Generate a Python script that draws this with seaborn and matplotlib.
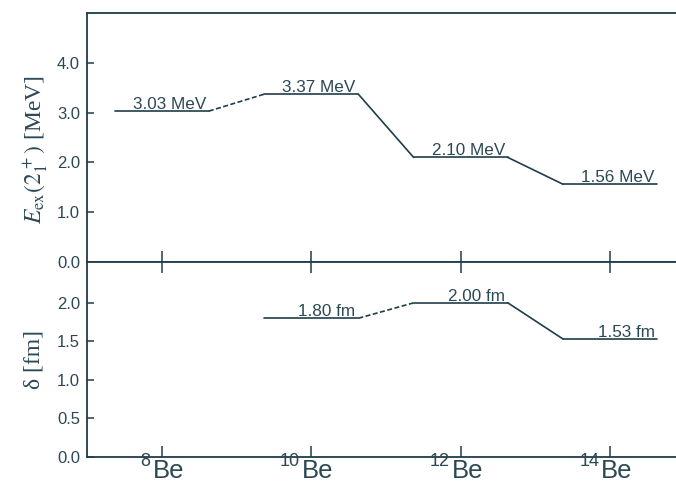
import numpy as np
import pandas as pd
import matplotlib
matplotlib.use("Agg")
import matplotlib.pyplot as plt
from matplotlib.transforms import blended_transform_factory, offset_copy
import seaborn as sns

# ---- data ----
mass_numbers = [8, 10, 12, 14]
mass_labels = ["8", "10", "12", "14"]
element = "Be"
energies = [3.03, 3.37, 2.10, 1.56]            # MeV
energy_labels = ["3.03 MeV", "3.37 MeV", "2.10 MeV", "1.56 MeV"]
deltas = [np.nan, 1.80, 2.00, 1.53]            # fm
delta_labels = ["", "1.80 fm", "2.00 fm", "1.53 fm"]
energy_links = ["dashed", "solid", "solid"]
delta_links = [None, "dashed", "solid"]

sns.set_theme(style="white")
plt.rcParams["font.family"] = ["Liberation Sans", "DejaVu Sans"]

LINE = "#1f3d4a"
TEXT = "#2b4855"
HALF = 0.63

fig = plt.figure(figsize=(6.76, 4.83), dpi=100)
left, right = 87 / 676, 1.0
ax1 = fig.add_axes([left, 1 - 262 / 483, right - left, (262 - 13) / 483])
ax2 = fig.add_axes([left, 1 - 457 / 483, right - left, (457 - 262) / 483])


def segments(values, links):
    rows = []
    seg = 0
    for a, v in zip(mass_numbers, values):
        if np.isnan(v):
            continue
        rows.append(dict(x=a - HALF, y=v, seg=seg, kind="solid"))
        rows.append(dict(x=a + HALF, y=v, seg=seg, kind="solid"))
        seg += 1
    for i, style in enumerate(links):
        if style is None:
            continue
        a0, a1 = mass_numbers[i], mass_numbers[i + 1]
        rows.append(dict(x=a0 + HALF, y=values[i], seg=seg, kind=style))
        rows.append(dict(x=a1 - HALF, y=values[i + 1], seg=seg, kind=style))
        seg += 1
    return pd.DataFrame(rows)


def draw(ax, values, labels, links):
    df = segments(values, links)
    sns.lineplot(data=df, x="x", y="y", units="seg", style="kind",
                 dashes={"solid": "", "dashed": (3, 1.5)},
                 estimator=None, sort=False, color=LINE, lw=1.2,
                 legend=False, ax=ax)
    for a, v, lab in zip(mass_numbers, values, labels):
        if np.isnan(v):
            continue
        ax.annotate(lab, xy=(a + HALF, v), xytext=(-2, 1.6),
                    textcoords="offset points", ha="right", va="baseline",
                    fontsize=12.3, color=TEXT)


draw(ax1, energies, energy_labels, energy_links)
draw(ax2, deltas, delta_labels, delta_links)

for ax in (ax1, ax2):
    ax.set_xlim(7.0, 14.88)
    ax.set_xticks(mass_numbers)
    ax.set_xlabel("")
    ax.set_ylabel("")
    for s in ax.spines.values():
        s.set_color(LINE)
        s.set_linewidth(1.3)
    ax.spines["right"].set_visible(False)
    ax.tick_params(axis="y", direction="in", length=5, width=1.1,
                   color=LINE, labelcolor=TEXT, labelsize=12, pad=5,
                   left=True)
    ax.grid(False)

ax1.set_ylim(0, 5.0)
ax1.set_yticks([0, 1, 2, 3, 4])
ax1.set_yticklabels([f"{t:.1f}" for t in [0, 1, 2, 3, 4]])
ax1.tick_params(axis="x", direction="in", length=8, width=1.1, color=LINE,
                bottom=True, top=False, labelbottom=False)

ax2.set_ylim(0, 2.53)
yt2 = [0, 0.5, 1.0, 1.5, 2.0]
ax2.set_yticks(yt2)
ax2.set_yticklabels([f"{t:.1f}" for t in yt2])
ax2.tick_params(axis="x", direction="in", length=8, width=1.1, color=LINE,
                bottom=True, top=True, labelbottom=False)

# isotope labels: mass number as superscript-like text, then element symbol
trans = blended_transform_factory(ax2.transData, ax2.transAxes)
t_el = offset_copy(trans, fig=fig, x=-9, y=-25.5, units="dots")
t_ms = offset_copy(trans, fig=fig, x=-11, y=-9, units="dots")
for a, m in zip(mass_numbers, mass_labels):
    ax2.text(a, 0, element, transform=t_el, ha="left", va="bottom",
             fontsize=18.5, color=TEXT, clip_on=False)
    ax2.text(a, 0, m, transform=t_ms, ha="right", va="baseline",
             fontsize=13, color=TEXT, clip_on=False)

ax1.set_ylabel(r"$E_{\rm ex}(2_1^{\,+})$ [MeV]", fontsize=17,
               family="Liberation Serif", color=TEXT, math_fontfamily="stix")
ax2.set_ylabel("δ [fm]", fontsize=17, family="Liberation Serif", color=TEXT)
ax1.yaxis.set_label_coords(-0.062, 0.45)
ax2.yaxis.set_label_coords(-0.072, 0.5)

fig.savefig("out.png", dpi=100)
